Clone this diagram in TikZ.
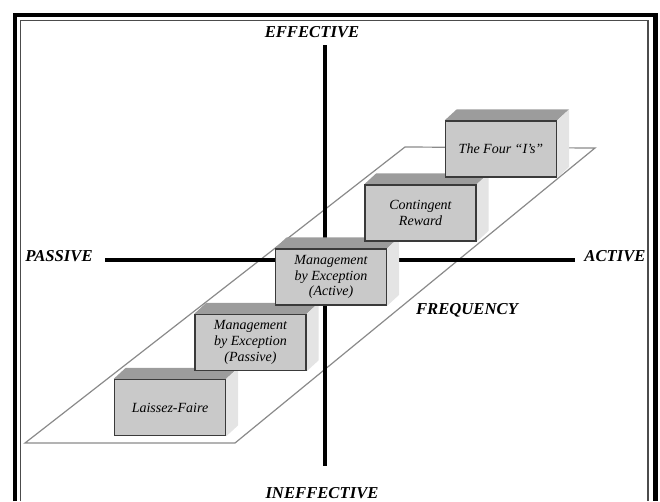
\documentclass[tikz,border=0pt]{standalone}
\usepackage{fontspec}
\setmainfont{Liberation Serif}
\usetikzlibrary{positioning, backgrounds}
\pgfdeclarelayer{mid}
\pgfsetlayers{background,mid,main}

\definecolor{frontgray}{HTML}{C9C9C9}
\definecolor{topgray}{HTML}{9C9C9C}
\definecolor{sidegray}{HTML}{E4E4E4}
\definecolor{edgegray}{HTML}{3A3A3A}
\definecolor{planegray}{HTML}{8A8A8A}

\begin{document}
\begin{tikzpicture}[
    x=0.75pt, y=-0.75pt,
    % bloques: cara frontal con borde, caras superior y lateral sin borde
    blk/.style={
        rectangle,
        draw=edgegray,
        line width=1.1pt,
        fill=frontgray,
        minimum width=83.25pt,
        minimum height=42pt,
        inner sep=0pt,
        align=center,
        font=\fontsize{10.5}{11.8}\selectfont\itshape
    },
    topface/.style={fill=topgray},
    sideface/.style={fill=sidegray},
    axislbl/.style={font=\fontsize{12.5}{14}\selectfont\bfseries\itshape},
    axis/.style={line width=2.3pt, draw=black},
    plane/.style={line width=0.9pt, draw=planegray}
]
    \useasboundingbox (0,0) rectangle (660,501);

    % --- MARCO ---
    \draw[line width=3.6pt] (15,501) |- (655.5,15) -- (655.5,501);
    \draw[line width=0.8pt, draw=black!70] (20.5,501) |- (648,20.5) -- (648,501);

    % --- ETIQUETAS DE LOS EJES ---
    \node[axislbl] (eff) at (312,32) {EFFECTIVE};
    \node[axislbl] (ineff) at (322,493) {INEFFECTIVE};
    \node[axislbl] (pasv) at (59,256) {PASSIVE};
    \node[axislbl] (actv) at (615,256) {ACTIVE};
    \node[axislbl] (freq) at (467,310) {FREQUENCY};

    \coordinate (vtop) at (325,45);
    \coordinate (vbot) at (325,466);
    \coordinate (hleft) at (105,260);
    \coordinate (hright) at (575,260);

    % --- PLANO INCLINADO ---
    \coordinate (pbl) at (25,443);
    \coordinate (pbr) at (235,443);
    \coordinate (ptr) at (595,148);
    \coordinate (ptl) at (405,147);

    % --- BLOQUES (de abajo a arriba) ---
    \node[blk] (lf) at (170,407.5) {Laissez-Faire};
    \node[blk] (mp) at (250.5,342.5) {Management\\by Exception\\(Passive)};
    \node[blk] (ma) at (331,277) {Management\\by Exception\\(Active)};
    \node[blk] (cr) at (420.5,213) {Contingent\\Reward};
    \node[blk] (fi) at (501,149) {The Four ``I's''};

    % caras superior y lateral
    \begin{pgfonlayer}{mid}
        \foreach \b in {lf,mp,ma,cr,fi} {
            \path[topface] (\b.north west) -- ([shift={(12,-11)}]\b.north west)
                -- ([shift={(12,-11)}]\b.north east) -- (\b.north east) -- cycle;
            \path[sideface] (\b.north east) -- ([shift={(12,-11)}]\b.north east)
                -- ([shift={(12,-11)}]\b.south east) -- (\b.south east) -- cycle;
        }
    \end{pgfonlayer}

    % --- EJES Y PLANO (FONDO) ---
    \begin{scope}[on background layer]
        \draw[plane] (pbl) -- (pbr) -- (ptr) -- (ptl) -- cycle;
        \draw[axis] (vtop) -- (vbot);
        \draw[axis] (hleft) -- (hright);
    \end{scope}

\end{tikzpicture}
\end{document}
